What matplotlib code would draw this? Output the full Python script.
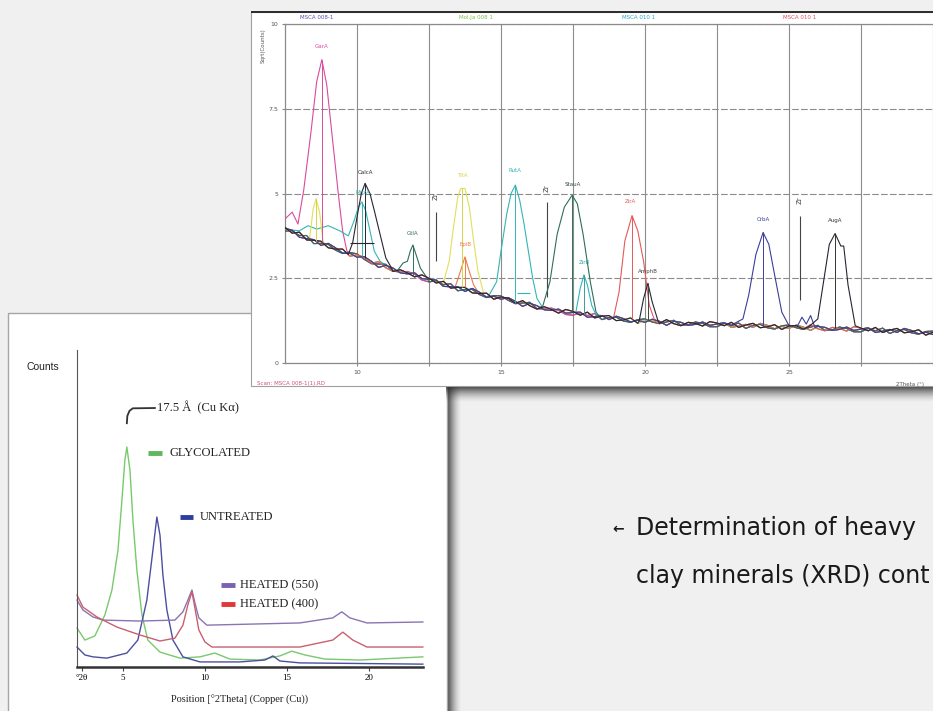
import numpy as np
import matplotlib
matplotlib.use("Agg")
import matplotlib.pyplot as plt
from matplotlib.patches import Rectangle

# ---------------------------------------------------------------- data
# Heavy-mineral XRD scan (upper panel): noisy background of three scans
base_x = np.arange(7.5, 31.51, 0.25)
base_a = [4.00, 3.83, 3.86, 3.63, 3.62, 3.59, 3.40, 3.36, 3.36, 3.15,
          3.19, 3.12, 2.94, 2.99, 2.81, 2.70, 2.75, 2.66, 2.54, 2.60,
          2.50, 2.36, 2.41, 2.21, 2.23, 2.23, 2.07, 2.05, 2.06, 1.88,
          1.95, 1.91, 1.76, 1.84, 1.69, 1.59, 1.66, 1.58, 1.47, 1.58,
          1.52, 1.41, 1.50, 1.33, 1.38, 1.40, 1.25, 1.27, 1.33, 1.17,
          1.27, 1.27, 1.17, 1.28, 1.16, 1.10, 1.20, 1.17, 1.09, 1.22,
          1.18, 1.10, 1.20, 1.05, 1.12, 1.17, 1.04, 1.07, 1.13, 0.99,
          1.09, 1.10, 1.00, 1.13, 1.01, 0.95, 1.05, 1.02, 0.94, 1.07,
          1.03, 0.95, 1.05, 0.90, 0.97, 1.02, 0.89, 0.92, 0.98, 0.82,
          0.91, 0.93, 0.83, 0.96, 0.84, 0.79, 0.89]
base_b = [3.89, 3.90, 3.76, 3.76, 3.52, 3.53, 3.50, 3.33, 3.23, 3.26,
          3.22, 3.06, 2.93, 2.92, 2.91, 2.71, 2.68, 2.70, 2.62, 2.45,
          2.39, 2.43, 2.31, 2.34, 2.13, 2.17, 2.17, 2.02, 1.93, 1.99,
          1.98, 1.85, 1.75, 1.77, 1.79, 1.60, 1.59, 1.62, 1.55, 1.43,
          1.41, 1.48, 1.40, 1.46, 1.28, 1.34, 1.35, 1.24, 1.20, 1.28,
          1.30, 1.21, 1.16, 1.21, 1.26, 1.11, 1.13, 1.21, 1.17, 1.07,
          1.07, 1.17, 1.10, 1.18, 1.02, 1.11, 1.14, 1.04, 1.00, 1.10,
          1.12, 1.04, 0.99, 1.06, 1.11, 0.96, 0.98, 1.06, 1.02, 0.92,
          0.92, 1.02, 0.95, 1.03, 0.87, 0.96, 0.99, 0.89, 0.85, 0.93,
          0.94, 0.87, 0.82, 0.89, 0.94, 0.80, 0.82]
base_c = [3.97, 3.92, 3.71, 3.67, 3.64, 3.47, 3.53, 3.40, 3.24, 3.24,
          3.12, 3.14, 3.00, 2.82, 2.88, 2.80, 2.66, 2.63, 2.66, 2.49,
          2.47, 2.45, 2.26, 2.25, 2.25, 2.11, 2.20, 2.09, 1.94, 1.97,
          1.88, 1.93, 1.82, 1.67, 1.76, 1.69, 1.57, 1.55, 1.59, 1.47,
          1.49, 1.50, 1.35, 1.37, 1.40, 1.28, 1.38, 1.31, 1.21, 1.26,
          1.20, 1.29, 1.23, 1.11, 1.23, 1.20, 1.11, 1.14, 1.21, 1.11,
          1.15, 1.19, 1.05, 1.09, 1.14, 1.05, 1.17, 1.11, 1.01, 1.08,
          1.02, 1.12, 1.06, 0.96, 1.08, 1.05, 0.96, 0.99, 1.06, 0.96,
          1.00, 1.04, 0.90, 0.94, 0.99, 0.90, 1.02, 0.96, 0.86, 0.91,
          0.84, 0.95, 0.89, 0.79, 0.91, 0.89, 0.80]

# peak segments (2theta, sqrt counts)
gar_x = [7.5, 7.75, 7.95, 8.15, 8.4, 8.6, 8.78, 8.95, 9.15, 9.35, 9.5, 9.65]
gar_y = [4.25, 4.45, 4.1, 5.1, 6.8, 8.3, 8.95, 8.2, 6.6, 5.0, 3.9, 3.3]
calc_x = [9.7, 9.85, 10.0, 10.15, 10.28, 10.45, 10.6, 10.8, 11.0, 11.2]
calc_y = [3.2, 3.55, 4.3, 5.0, 5.3, 5.0, 4.5, 3.8, 3.1, 2.8]
mnz_x = [8.0, 8.3, 8.6, 9.0, 9.4, 9.7, 9.9, 10.05, 10.17, 10.3, 10.45, 10.6, 10.8]
mnz_y = [3.9, 4.05, 3.95, 4.05, 3.9, 3.75, 4.2, 4.6, 4.75, 4.5, 3.9, 3.3, 3.0]
gtl_x = [11.4, 11.6, 11.75, 11.85, 11.94, 12.05, 12.2, 12.4]
gtl_y = [2.72, 2.95, 3.0, 3.3, 3.48, 3.2, 2.8, 2.55]
yel_x = [8.35, 8.48, 8.58, 8.7, 8.82]
yel_y = [3.65, 4.55, 4.85, 4.45, 3.6]
tit_x = [13.0, 13.2, 13.35, 13.5, 13.6, 13.75, 13.9, 14.05, 14.2, 14.4]
tit_y = [2.36, 3.0, 4.0, 4.9, 5.15, 5.15, 4.6, 3.6, 2.7, 2.05]
epi_x = [13.4, 13.55, 13.75, 13.9, 14.05, 14.2]
epi_y = [2.22, 2.6, 3.13, 2.7, 2.3, 2.1]
rut_x = [14.6, 14.85, 15.0, 15.2, 15.35, 15.5, 15.65, 15.8, 15.95, 16.1, 16.25, 16.4]
rut_y = [2.02, 2.4, 3.3, 4.4, 5.0, 5.25, 4.8, 4.1, 3.3, 2.5, 1.9, 1.7]
stau_x = [16.45, 16.7, 16.95, 17.2, 17.47, 17.65, 17.85, 18.1, 18.3]
stau_y = [1.68, 2.4, 3.8, 4.6, 4.95, 4.7, 3.8, 2.4, 1.5]
zirb_x = [17.6, 17.75, 17.88, 18.0, 18.15, 18.3]
zirb_y = [1.5, 2.2, 2.6, 2.3, 1.7, 1.42]
zira_x = [18.9, 19.1, 19.3, 19.55, 19.75, 19.95, 20.15, 20.35]
zira_y = [1.3, 2.1, 3.6, 4.35, 3.9, 3.0, 1.7, 1.22]
amph_x = [19.8, 19.95, 20.1, 20.25, 20.45]
amph_y = [1.25, 1.9, 2.35, 1.8, 1.25]
crb_x = [23.0, 23.4, 23.6, 23.85, 24.1, 24.3, 24.5, 24.75, 25.0, 25.3, 25.45, 25.6, 25.75, 25.9]
crb_y = [1.12, 1.3, 2.0, 3.2, 3.85, 3.5, 2.6, 1.5, 1.1, 1.1, 1.35, 1.15, 1.4, 1.05]
aug_x = [25.7, 26.0, 26.2, 26.4, 26.6, 26.8, 26.9, 27.05, 27.3]
aug_y = [1.08, 1.3, 2.4, 3.5, 3.82, 3.45, 3.45, 2.3, 1.1]

# peak labels: (text, 2theta, height, colour)
peak_labels = [
    ("GarA", 8.78, 9.25, "#d84c9c"), ("CalcA", 10.3, 5.55, "#262633"),
    ("MnzA", 10.2, 4.95, "#33b5b5"), ("GtlA", 11.94, 3.75, "#2f6f55"),
    ("TitA", 13.65, 5.45, "#d9d247"), ("EpiB", 13.75, 3.42, "#ee7a47"),
    ("RutA", 15.5, 5.6, "#33b5b5"), ("StauA", 17.5, 5.2, "#2f4f45"),
    ("ZirB", 17.9, 2.88, "#33a0a0"), ("ZirA", 19.5, 4.7, "#e35a5a"),
    ("AmphB", 20.1, 2.62, "#444444"), ("CrbA", 24.1, 4.15, "#3b3f9a"),
    ("AugA", 26.6, 4.12, "#333333"),
]
peak_drops = [(8.78, 8.95, "#d84c9c"), (10.28, 5.3, "#262633"), (10.17, 4.75, "#33b5b5"),
              (11.94, 3.48, "#2f6f55"), (8.58, 4.85, "#d9d247"), (13.65, 5.15, "#d9d247"),
              (13.75, 3.13, "#ee7a47"), (15.5, 5.25, "#33b5b5"), (17.47, 4.95, "#2f6f55"),
              (17.88, 2.6, "#33a0a0"), (19.55, 4.35, "#e35a5a"), (20.1, 2.35, "#444444"),
              (24.1, 3.85, "#3b3f9a"), (26.6, 3.82, "#333333")]
# reference markers: (2theta, text height, line top, line bottom)
markers = [(12.74, 4.8, 4.45, 3.0), (16.6, 5.05, 4.75, 1.95), (25.38, 4.7, 4.35, 1.86)]
scan_names = [("MSCA 008-1", 8.61, "#5b4fb0"), ("Mol.Ja 008 1", 14.13, "#7cc04a"),
              ("MSCA 010 1", 19.76, "#2aa6c8"), ("MSCA 010 1", 25.38, "#e0505a")]
top_xticks = [10, 12.5, 15, 17.5, 20, 22.5, 25, 27.5, 30]
top_xticklabels = ["10", "", "15", "", "20", "", "25", "", ""]
top_yticks = [0, 2.5, 5, 7.5, 10]
top_yticklabels = ["0", "2.5", "5", "7.5", "10"]

# Clay-mineral XRD (lower panel)
glyc_x = [2.20, 2.68, 3.29, 3.90, 4.33, 4.70, 4.94, 5.12, 5.24, 5.43, 5.61, 5.85, 6.16,
          6.52, 7.26, 8.48, 9.70, 10.61, 11.52, 13.35, 14.57, 15.30, 16.10, 17.32, 19.45, 23.29]
glyc_y = [12.3, 8.5, 9.8, 16.4, 24.3, 36.9, 52.7, 65.3, 69.4, 62.1, 46.4, 30.6, 16.4,
          8.5, 4.7, 2.8, 3.2, 4.4, 2.5, 2.2, 3.5, 5.0, 3.8, 2.5, 2.2, 3.2]
untr_x = [2.20, 2.68, 3.17, 4.02, 5.24, 5.91, 6.46, 6.83, 7.07, 7.26, 7.44, 7.68, 8.05,
          8.66, 9.70, 12.13, 13.66, 14.15, 14.57, 15.79, 23.29]
untr_y = [6.3, 3.8, 3.2, 2.8, 4.4, 8.5, 21.1, 36.9, 47.3, 41.6, 29.0, 18.0, 8.5,
          3.2, 1.6, 1.6, 2.2, 3.5, 1.9, 1.3, 0.9]
h550_x = [2.20, 2.56, 3.17, 3.78, 6.04, 8.17, 8.66, 8.96, 9.21, 9.39, 9.63, 10.12,
          15.79, 17.80, 18.35, 18.84, 19.88, 23.29]
h550_y = [21.1, 18.0, 15.8, 14.8, 14.5, 14.8, 17.4, 21.1, 24.3, 20.2, 15.5, 13.2,
          13.9, 15.5, 17.4, 15.5, 13.9, 14.2]
h400_x = [2.20, 2.56, 3.41, 4.63, 6.04, 7.26, 8.17, 8.66, 8.96, 9.21, 9.39, 9.63, 10.0,
          10.43, 15.79, 17.80, 18.41, 19.02, 19.88, 23.29]
h400_y = [22.7, 18.9, 15.8, 12.6, 10.1, 8.2, 9.1, 13.2, 19.6, 23.7, 18.6, 11.7, 7.9,
          6.3, 6.3, 8.5, 11.0, 8.5, 6.3, 6.3]
clay_series = ["GLYCOLATED", "UNTREATED", "HEATED (550)", "HEATED (400)"]
clay_line_colors = ["#79c96d", "#4b4fa0", "#8a74b2", "#c9606e"]
clay_key_colors = ["#5cb85c", "#2c3e9e", "#7a62b0", "#e03838"]
clay_key_pos = [(6.52, 7.38, 7.87, 67.5), (8.48, 9.27, 9.70, 47.3),
                (10.98, 11.83, 12.13, 25.9), (10.98, 11.83, 12.13, 19.9)]
low_xticks = [2.5, 5, 10, 15, 20]
low_xticklabels = ["°2θ", "5", "10", "15", "20"]

# ---------------------------------------------------------------- figure
W, H = 933, 711
BG = "#f0f0f0"
fig = plt.figure(figsize=(W / 100, H / 100), dpi=100, facecolor=BG)


def pixel_layer(z):
    ax = fig.add_axes([0, 0, 1, 1], zorder=z)
    ax.patch.set_alpha(0)
    ax.axis("off")
    return ax


def frac(x0, y0, x1, y1):
    return [x0 / W, 1 - y1 / H, (x1 - x0) / W, (y1 - y0) / H]


def shade(ax, x0, x1, y0, y1, along_y, strength=0.85):
    n = 40
    a = np.linspace(1, 0, n) ** 1.6 * strength
    if along_y:
        rgba = np.zeros((n, 1, 4))
        rgba[:, 0, 3] = a
    else:
        rgba = np.zeros((1, n, 4))
        rgba[0, :, 3] = a
    rgba[..., :3] = 0.13
    ax.imshow(rgba, extent=(x0, x1, y1, y0), origin="upper", aspect="auto",
              interpolation="bilinear", zorder=1)


# lower-left sheet
sheet1 = pixel_layer(0)
sheet1.add_patch(Rectangle((8, 313), 439, 420, fc="white", ec="#a5a5a5", lw=1.0, zorder=2))
shade(sheet1, 447, 462, 380, 711, along_y=False)
sheet1.set_xlim(0, W)
sheet1.set_ylim(H, 0)

# upper-right sheet
sheet2 = pixel_layer(2)
sheet2.add_patch(Rectangle((251, 12), 720, 374, fc="white", ec="#a0a0a0", lw=0.8, zorder=2))
sheet2.add_patch(Rectangle((251, 10.5), 720, 2.5, fc="#2e2e2e", ec="none", zorder=3))
shade(sheet2, 446, 933, 386, 403, along_y=True)
sheet2.set_xlim(0, W)
sheet2.set_ylim(H, 0)

# ---------------------------------------------------------------- upper chart
ax1 = fig.add_axes(frac(285, 24, 1000, 363), zorder=3)
ax1.set_facecolor("none")
ax1.set_xlim(7.5, 7.5 + 715 / 28.8)
ax1.set_ylim(0, 10)
for s in ax1.spines.values():
    s.set_color("#8a8a8a")
    s.set_linewidth(0.9)
ax1.set_xticks(top_xticks, top_xticklabels)
ax1.set_yticks(top_yticks, top_yticklabels)
ax1.tick_params(labelsize=4.5, labelcolor="#555555", length=2, color="#888888", pad=3)
ax1.grid(True, axis="x", color="#8c8c8c", lw=0.8)
ax1.grid(True, axis="y", color="#8c8c8c", lw=0.8, linestyle=(0, (6, 2)))

bx = np.asarray(base_x)


def assemble(base_y, segments):
    by = np.asarray(base_y)
    xs, ys = [], []
    left = -np.inf
    for sx, sy in segments:
        keep = (bx > left) & (bx < sx[0])
        xs += list(bx[keep]) + list(sx)
        ys += list(by[keep]) + list(sy)
        left = sx[-1]
    keep = bx > left
    xs += list(bx[keep])
    ys += list(by[keep])
    return xs, ys


traces = [
    ("#5a5a5a", base_a, []),
    ("#6a4f7e", base_b, []),
    ("#45455e", base_c, []),
    ("#d84c9c", base_b, [(gar_x, gar_y)]),
    ("#33b5b5", base_c, [(mnz_x, mnz_y), (rut_x, rut_y), (zirb_x, zirb_y)]),
    ("#e3de5a", base_a, [(yel_x, yel_y), (tit_x, tit_y)]),
    ("#ee7a47", base_c, [(epi_x, epi_y)]),
    ("#2f6f55", base_b, [(gtl_x, gtl_y), (stau_x, stau_y)]),
    ("#e35a5a", base_a, [(zira_x, zira_y)]),
    ("#3b3f9a", base_c, [(crb_x, crb_y)]),
    ("#262633", base_a, [(calc_x, calc_y), (amph_x, amph_y), (aug_x, aug_y)]),
]
for color, by, segs in traces:
    xs, ys = assemble(by, segs)
    ax1.plot(xs, ys, color=color, lw=0.8, zorder=3)

for x, top, c in peak_drops:
    ax1.vlines(x, np.interp(x, bx, base_a), top, color=c, lw=0.7, zorder=4)
ax1.hlines(3.54, 9.76, 10.6, color="#262633", lw=0.8, zorder=4)
ax1.hlines(2.06, 15.55, 16.0, color="#33b5b5", lw=0.8, zorder=4)

for text, x, y, c in peak_labels:
    ax1.text(x, y, text, color=c, fontsize=4, ha="center", va="bottom", zorder=5)
for x, ty, l0, l1 in markers:
    ax1.text(x, ty, "Zr", rotation=90, fontsize=5, color="#444444", ha="center", va="bottom")
    ax1.vlines(x, l1, l0, color="#444444", lw=0.8)
for text, x, c in scan_names:
    ax1.text(x, 10.12, text, color=c, fontsize=4, ha="center", va="bottom", clip_on=False)
ax1.text(6.53, -0.6, "Scan: MSCA 008-1(1).RD", color="#d05080", fontsize=4,
         ha="left", va="center", clip_on=False)
ax1.text(28.7, -0.62, "2Theta (°)", color="#555555", fontsize=4, ha="left", va="center",
         clip_on=False)
ax1.text(6.75, 9.35, "Sqrt(Counts)", color="#555555", fontsize=4, rotation=90,
         ha="center", va="center", clip_on=False)

# ---------------------------------------------------------------- lower chart
SERIF = "Liberation Serif"
ax2 = fig.add_axes(frac(77, 350, 423, 667), zorder=1)
ax2.set_facecolor("none")
ax2.set_xlim(2.2, 23.3)
ax2.set_ylim(0, 100)
ax2.spines["top"].set_visible(False)
ax2.spines["right"].set_visible(False)
ax2.spines["left"].set_color("#555555")
ax2.spines["left"].set_linewidth(0.8)
ax2.spines["bottom"].set_color("#333333")
ax2.spines["bottom"].set_linewidth(1.8)
ax2.set_yticks([])
ax2.set_xticks(low_xticks, low_xticklabels)
ax2.tick_params(axis="x", labelsize=6.5, length=3, color="#444444", pad=2)
for lab in ax2.get_xticklabels():
    lab.set_fontfamily(SERIF)

for (xs, ys), c in zip([(glyc_x, glyc_y), (untr_x, untr_y), (h550_x, h550_y), (h400_x, h400_y)],
                       clay_line_colors):
    ax2.plot(xs, ys, color=c, lw=1.0, clip_on=False)

for name, c, (k0, k1, tx, ty) in zip(clay_series, clay_key_colors, clay_key_pos):
    ax2.plot([k0, k1], [ty, ty], color=c, lw=3.5, solid_capstyle="butt")
    ax2.text(tx, ty, name, fontsize=9, family=SERIF, color="#222222", va="center", ha="left")

ax2.plot([5.24, 5.27, 5.4, 5.6, 6.95], [76.9, 79.2, 80.8, 81.6, 81.7], color="#333333", lw=1.3)
ax2.text(7.05, 81.7, "17.5 Å  (Cu Kα)", fontsize=9, family=SERIF, color="#222222",
         va="center", ha="left")
ax2.text(-0.098, 0.946, "Counts", transform=ax2.transAxes, fontsize=7.5,
         family="Liberation Sans", color="#222222", ha="center", va="center")
ax2.text(0.471, -0.104, "Position [°2Theta] (Copper (Cu))", transform=ax2.transAxes,
         fontsize=7.5, family=SERIF, color="#222222", ha="center", va="center")

# ---------------------------------------------------------------- caption
cap = pixel_layer(10)
cap.set_xlim(0, W)
cap.set_ylim(H, 0)
cap.text(612, 529, "←", fontsize=10, family=["DejaVu Sans"], color="#1a1a1a",
         ha="left", va="center", weight="bold")
cap.text(636, 535, "Determination of heavy", fontsize=17,
         family=["DejaVu Sans"], color="#1a1a1a", ha="left", va="baseline")
cap.text(636, 583, "clay minerals (XRD) cont", fontsize=17,
         family=["DejaVu Sans"], color="#1a1a1a", ha="left", va="baseline")

fig.savefig("out.png", dpi=100, facecolor=BG)
